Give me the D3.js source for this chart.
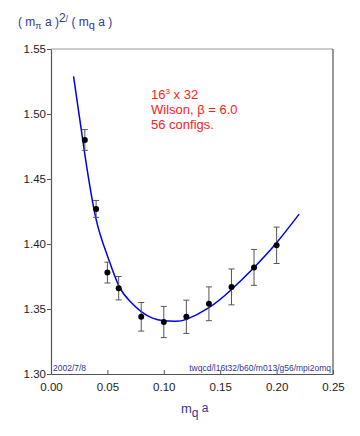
<!DOCTYPE html>
<html><head><meta charset="utf-8">
<script src="https://cdn.jsdelivr.net/npm/d3@7"></script>
<style>body{margin:0;background:#fff}svg{display:block}text{font-family:"Liberation Sans",Arial,sans-serif}</style>
</head><body>
<svg id="c" width="360" height="436"></svg>
<script>
const mqa = [0.03,0.04,0.05,0.06,0.08,0.10,0.12,0.14,0.16,0.18,0.20];
const ratio = [1.480,1.427,1.378,1.366,1.344,1.340,1.344,1.354,1.367,1.382,1.399];
const err = [0.008,0.0065,0.008,0.009,0.011,0.012,0.0128,0.013,0.0138,0.0138,0.014];
const fitX = [0.020,0.030,0.040,0.050,0.060,0.070,0.080,0.090,0.100,0.110,0.120,0.140,0.160,0.180,0.200,0.220];
const fitY = [1.529,1.469,1.419,1.391,1.368,1.356,1.348,1.343,1.341,1.3405,1.342,1.351,1.365,1.382,1.401,1.423];
const xTicks = [0,0.05,0.10,0.15,0.20,0.25];
const yTicks = [1.30,1.35,1.40,1.45,1.50,1.55];

const svg = d3.select('#c');
const L=51,R=333,T=49,B=374;
const x = d3.scaleLinear().domain([0,0.25]).range([L,R]);
const y = d3.scaleLinear().domain([1.30,1.55]).range([B,T]);
const blue='#333399', axc='#555';

// frame
svg.append('line').attr('x1',L).attr('x2',R).attr('y1',T).attr('y2',T).attr('stroke','#999').attr('stroke-width',1.2);
svg.append('line').attr('x1',R).attr('x2',R).attr('y1',T).attr('y2',B).attr('stroke','#555').attr('stroke-width',1.2);

const ya = svg.append('g').attr('transform',`translate(${L},0)`)
  .call(d3.axisLeft(y).tickValues(yTicks).tickFormat(d3.format('.2f')).tickSize(4).tickSizeOuter(0));
const xa = svg.append('g').attr('transform',`translate(0,${B})`)
  .call(d3.axisBottom(x).tickValues(xTicks).tickFormat(d3.format('.2f')).tickSize(-4).tickSizeOuter(0));
[ya,xa].forEach(g=>{g.select('.domain').attr('stroke',axc).attr('stroke-width',1.2);
  g.selectAll('.tick line').attr('stroke',axc);
  g.selectAll('text').attr('fill','#222').style('font-size','11.5px').style('font-family','"Liberation Sans",Arial,sans-serif');});
ya.selectAll('text').attr('x',-5);
xa.selectAll('text').attr('y',9);

// fit curve
svg.append('path').datum(fitX.map((d,i)=>[d,fitY[i]]))
  .attr('d',d3.line().x(d=>x(d[0])).y(d=>y(d[1])).curve(d3.curveNatural))
  .attr('fill','none').attr('stroke','#0000ee').attr('stroke-width',1.5);

// error bars
const g = svg.append('g');
mqa.forEach((m,i)=>{
  const cx=x(m);
  g.append('line').attr('x1',cx).attr('x2',cx).attr('y1',y(ratio[i]+err[i])).attr('y2',y(ratio[i]-err[i])).attr('stroke','#555').attr('stroke-width',1);
  [ratio[i]+err[i],ratio[i]-err[i]].forEach(v=>g.append('line').attr('x1',cx-3).attr('x2',cx+3).attr('y1',y(v)).attr('y2',y(v)).attr('stroke','#555').attr('stroke-width',1));
  g.append('circle').attr('cx',cx).attr('cy',y(ratio[i])).attr('r',3).attr('fill','#000');
});

// y title
const yt = svg.append('text').attr('x',18).attr('y',26).attr('fill',blue).style('font-size','12px');
yt.append('tspan').text('( m');
yt.append('tspan').text('π').attr('dy',3).style('font-size','9px');
yt.append('tspan').text(' a )').attr('dy',-3);
yt.append('tspan').text('2').attr('dy',-4).style('font-size','12px');
yt.append('tspan').text('/').attr('dy',0).style('font-size','9px');
yt.append('tspan').text(' ( m').attr('dy',4);
yt.append('tspan').text('q').attr('dy',3).style('font-size','11px');
yt.append('tspan').text(' a )').attr('dy',-3);

// x title
const xt = svg.append('text').attr('x',181).attr('y',413).attr('fill',blue).style('font-size','13px');
xt.append('tspan').text('m');
xt.append('tspan').text('q').attr('dy',4).style('font-size','12px');
xt.append('tspan').text(' a').attr('dy',-5).style('font-size','12px');

// annotation
const red='#ff2020';
const a1 = svg.append('text').attr('x',151).attr('y',99).attr('fill',red).style('font-size','13px');
a1.append('tspan').text('16');
a1.append('tspan').text('3').attr('dy',-5).style('font-size','8px');
a1.append('tspan').text(' x 32').attr('dy',5);
svg.append('text').attr('x',151).attr('y',114).attr('fill',red).style('font-size','13px').text('Wilson, β = 6.0');
svg.append('text').attr('x',151).attr('y',129).attr('fill',red).style('font-size','13px').text('56 configs.');

// footnotes
svg.append('text').attr('x',53).attr('y',371).attr('fill',blue).style('font-size','8.5px').text('2002/7/8');
svg.append('text').attr('x',331).attr('y',371).attr('text-anchor','end').attr('fill',blue).style('font-size','8.5px').text('twqcd/l16t32/b60/m013/g56/mpi2omq');
</script>
</body></html>
